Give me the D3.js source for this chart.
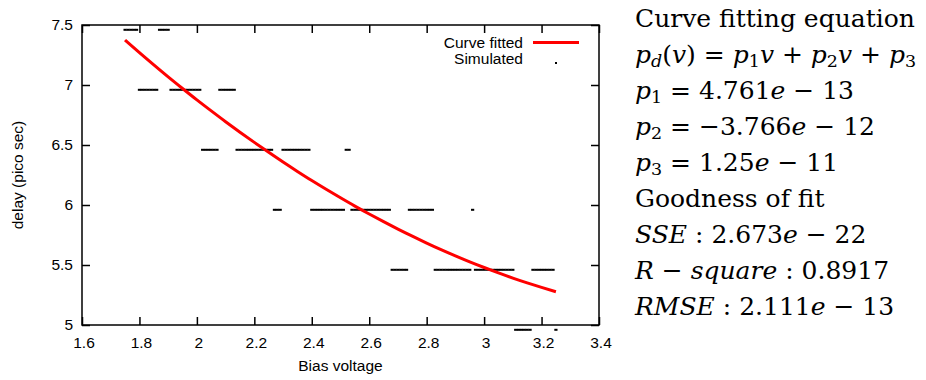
<!DOCTYPE html>
<html>
<head>
<meta charset="utf-8">
<script src="https://cdn.jsdelivr.net/npm/d3@7"></script>
<style>
  html, body { margin: 0; padding: 0; background: #fff; }
  svg { display: block; }
  .tick text { font-family: "Liberation Sans", Arial, sans-serif; }
</style>
</head>
<body>
<svg id="chart" width="926" height="380"></svg>
<script>
// ---------------- data ----------------
const xTicks = [1.6, 1.8, 2.0, 2.2, 2.4, 2.6, 2.8, 3.0, 3.2, 3.4];
const yTicks = [5, 5.5, 6, 6.5, 7, 7.5];

// Simulated (bias voltage sweep, delay in ps)
const simVoltage = [
  1.75,1.76,1.77,1.78,1.79,1.80,1.81,1.82,1.83,1.84,
  1.85,1.86,1.87,1.88,1.89,1.90,1.91,1.92,1.93,1.94,
  1.95,1.96,1.97,1.98,1.99,2.00,2.01,2.02,2.03,2.04,
  2.05,2.06,2.07,2.08,2.09,2.10,2.11,2.12,2.13,2.14,
  2.15,2.16,2.17,2.18,2.19,2.20,2.21,2.22,2.23,2.24,
  2.25,2.26,2.27,2.28,2.29,2.30,2.31,2.32,2.33,2.34,
  2.35,2.36,2.37,2.38,2.39,2.40,2.41,2.42,2.43,2.44,
  2.45,2.46,2.47,2.48,2.49,2.50,2.51,2.52,2.53,2.54,
  2.55,2.56,2.57,2.58,2.59,2.60,2.61,2.62,2.63,2.64,
  2.65,2.66,2.67,2.68,2.69,2.70,2.71,2.72,2.73,2.74,
  2.75,2.76,2.77,2.78,2.79,2.80,2.81,2.82,2.83,2.84,
  2.85,2.86,2.87,2.88,2.89,2.90,2.91,2.92,2.93,2.94,
  2.95,2.96,2.97,2.98,2.99,3.00,3.01,3.02,3.03,3.04,
  3.05,3.06,3.07,3.08,3.09,3.10,3.11,3.12,3.13,3.14,
  3.15,3.16,3.17,3.18,3.19,3.20,3.21,3.22,3.23,3.24,
  3.25
];
const simDelay = [
  7.46,7.46,7.46,7.46,7.46,6.96,6.96,6.96,6.96,6.96,
  6.96,6.96,7.46,7.46,7.46,7.46,6.96,6.96,6.96,6.96,
  6.96,6.96,6.96,6.96,6.96,6.96,6.96,6.46,6.46,6.46,
  6.46,6.46,6.46,6.96,6.96,6.96,6.96,6.96,6.96,6.46,
  6.46,6.46,6.46,6.46,6.46,6.46,6.46,6.46,6.46,6.46,
  6.46,6.46,5.96,5.96,5.96,6.46,6.46,6.46,6.46,6.46,
  6.46,6.46,6.46,6.46,6.46,5.96,5.96,5.96,5.96,5.96,
  5.96,5.96,5.96,5.96,5.96,5.96,5.96,6.46,6.46,5.96,
  5.96,5.96,5.96,5.96,5.96,5.96,5.96,5.96,5.96,5.96,
  5.96,5.96,5.96,5.46,5.46,5.46,5.46,5.46,5.46,5.96,
  5.96,5.96,5.96,5.96,5.96,5.96,5.96,5.96,5.46,5.46,
  5.46,5.46,5.46,5.46,5.46,5.46,5.46,5.46,5.46,5.46,
  5.46,5.96,5.46,5.46,5.46,5.46,5.46,5.46,5.46,5.46,
  5.46,5.46,5.46,5.46,5.46,5.46,4.96,4.96,4.96,4.96,
  4.96,4.96,5.46,5.46,5.46,5.46,5.46,5.46,5.46,5.46,
  4.96
];

// Curve fitted (delay in ps)
const fitVoltage = [1.75,1.80,1.85,1.90,1.95,2.00,2.05,2.10,2.15,2.20,2.25,2.30,2.35,2.40,2.45,2.50,
                    2.55,2.60,2.65,2.70,2.75,2.80,2.85,2.90,2.95,3.00,3.05,3.10,3.15,3.20,3.25];
const fitDelay   = [7.375,7.270,7.168,7.068,6.971,6.876,6.784,6.694,6.607,6.522,6.439,6.358,6.280,6.204,6.131,6.060,
                    5.991,5.925,5.861,5.799,5.740,5.683,5.628,5.576,5.526,5.479,5.434,5.391,5.351,5.313,5.277];

const legendLabels = ["Curve fitted", "Simulated"];
const xLabel = "Bias voltage";
const yLabel = "delay (pico sec)";

// Annotation lines: [text, style] where style r=roman, i=italic, s=subscript roman, si=subscript italic
const annotLines = [
  [["Curve fitting equation","r"]],
  [["p","i"],["d","si"],["(","r"],["v","i"],[")","r"],[" = ","r"],["p","i"],["1","s"],["v","i"],[" + ","r"],["p","i"],["2","s"],["v","i"],[" + ","r"],["p","i"],["3","s"]],
  [["p","i"],["1","s"],[" = 4.761","r"],["e","i"],[" \u2212 13","r"]],
  [["p","i"],["2","s"],[" = \u22123.766","r"],["e","i"],[" \u2212 12","r"]],
  [["p","i"],["3","s"],[" = 1.25","r"],["e","i"],[" \u2212 11","r"]],
  [["Goodness of fit","r"]],
  [["SSE","i"],[" : 2.673","r"],["e","i"],[" \u2212 22","r"]],
  [["R","i"],[" \u2212 ","r"],["square","i"],[" : 0.8917","r"]],
  [["RMSE","i"],[" : 2.111","r"],["e","i"],[" \u2212 13","r"]]
];

// ---------------- layout ----------------
const svg = d3.select("#chart");
const plot = { left: 82, right: 599, top: 25, bottom: 325 };
const x = d3.scaleLinear().domain([1.6, 3.4]).range([plot.left, plot.right]);
const y = d3.scaleLinear().domain([5, 7.5]).range([plot.bottom, plot.top]);
const sansFont = "'Liberation Sans', Arial, sans-serif";
const fs = 15.5;
const tickLen = 8;

function styleAxis(g) {
  g.selectAll("line").attr("stroke", "#000").attr("stroke-width", 1.5);
  g.select(".domain").remove();
  g.selectAll("text").attr("font-size", fs).attr("fill", "#000").attr("font-family", sansFont);
}

// axes
svg.append("g").attr("transform", `translate(0,${plot.bottom})`)
  .call(d3.axisBottom(x).tickValues(xTicks).tickSize(-tickLen).tickPadding(11.5).tickFormat(d3.format("")))
  .call(styleAxis)
  .call(g => g.selectAll("text").attr("x", 1.5));
svg.append("g").attr("transform", `translate(0,${plot.top})`)
  .call(d3.axisTop(x).tickValues(xTicks).tickSize(-tickLen).tickFormat(""))
  .call(styleAxis);
svg.append("g").attr("transform", `translate(${plot.left},0)`)
  .call(d3.axisLeft(y).tickValues(yTicks).tickSize(-tickLen).tickPadding(9).tickFormat(d3.format("")))
  .call(styleAxis);
svg.append("g").attr("transform", `translate(${plot.right},0)`)
  .call(d3.axisRight(y).tickValues(yTicks).tickSize(-tickLen).tickFormat(""))
  .call(styleAxis);

// border
svg.append("rect")
  .attr("x", plot.left).attr("y", plot.top)
  .attr("width", plot.right - plot.left).attr("height", plot.bottom - plot.top)
  .attr("fill", "none").attr("stroke", "#000").attr("stroke-width", 1.5);

// axis labels
svg.append("text").attr("x", (plot.left + plot.right) / 2).attr("y", 371)
  .attr("text-anchor", "middle").attr("font-family", sansFont).attr("font-size", fs)
  .text(xLabel);
svg.append("text").attr("transform", `translate(23,${(plot.top + plot.bottom) / 2}) rotate(-90)`)
  .attr("text-anchor", "middle").attr("font-family", sansFont).attr("font-size", fs)
  .text(yLabel);

// simulated points
const simData = simVoltage.map((v, i) => ({ v, d: simDelay[i] }));
svg.append("g").selectAll("rect").data(simData).join("rect")
  .attr("x", d => x(d.v) - 1.6).attr("y", d => y(d.d) - 1)
  .attr("width", 3.2).attr("height", 2).attr("fill", "#000");

// fitted curve
const fitData = fitVoltage.map((v, i) => ({ v, d: fitDelay[i] }));
svg.append("path").datum(fitData)
  .attr("fill", "none").attr("stroke", "#ff0000").attr("stroke-width", 3)
  .attr("d", d3.line().x(d => x(d.v)).y(d => y(d.d)).curve(d3.curveMonotoneX));

// legend
const leg = svg.append("g");
leg.append("text").attr("x", 523).attr("y", 47.5).attr("text-anchor", "end")
  .attr("font-family", sansFont).attr("font-size", fs).text(legendLabels[0]);
leg.append("line").attr("x1", 533).attr("x2", 579).attr("y1", 42.5).attr("y2", 42.5)
  .attr("stroke", "#ff0000").attr("stroke-width", 3);
leg.append("text").attr("x", 523).attr("y", 63.5).attr("text-anchor", "end")
  .attr("font-family", sansFont).attr("font-size", fs).text(legendLabels[1]);
leg.append("rect").attr("x", 555).attr("y", 62).attr("width", 2).attr("height", 2).attr("fill", "#000");

// annotation block
const serif = "'DejaVu Serif', 'Liberation Serif', serif";
const annFs = 25;
const annX = 635, annY0 = 27, annDy = 36;
const ann = svg.append("g").attr("font-family", serif).attr("font-size", annFs).attr("fill", "#000");
annotLines.forEach((parts, li) => {
  const t = ann.append("text").attr("x", annX).attr("y", annY0 + li * annDy)
    .attr("xml:space", "preserve").style("white-space", "pre");
  let prevSub = false;
  parts.forEach(([txt, st]) => {
    const ts = t.append("tspan").text(txt);
    const isSub = st === "s" || st === "si";
    if (st === "i" || st === "si") ts.attr("font-style", "italic");
    if (isSub) ts.attr("font-size", annFs * 0.7);
    if (isSub && !prevSub) ts.attr("dy", 4);
    if (!isSub && prevSub) ts.attr("dy", -4);
    prevSub = isSub;
  });
});
</script>
</body>
</html>
